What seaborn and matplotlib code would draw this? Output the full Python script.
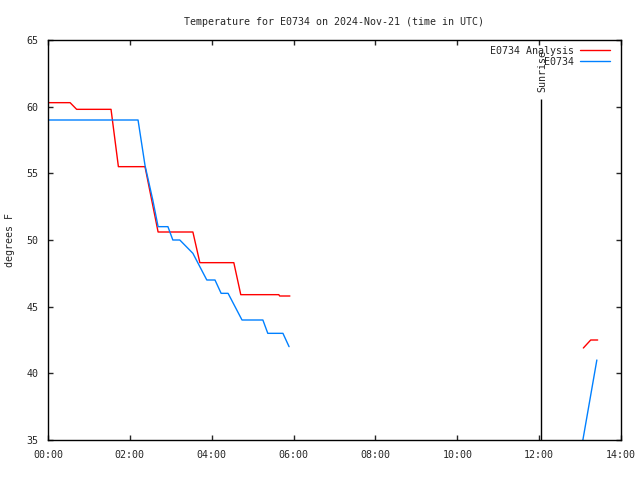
import numpy as np
import pandas as pd
import matplotlib
matplotlib.use("Agg")
import matplotlib.pyplot as plt
import seaborn as sns
from matplotlib.ticker import FuncFormatter, MultipleLocator

# Data (hours since 00:00 UTC, degrees F)
analysis_hours_1 = [0.0, 0.54, 0.70, 1.54, 1.72, 2.37, 2.69, 3.54, 3.71, 4.54, 4.71, 5.64, 5.66, 5.91]
analysis_temps_1 = [60.3, 60.3, 59.8, 59.8, 55.5, 55.5, 50.6, 50.6, 48.3, 48.3, 45.9, 45.9, 45.8, 45.8]
analysis_hours_2 = [13.08, 13.26, 13.43]
analysis_temps_2 = [41.9, 42.5, 42.5]

obs_hours_1 = [0.0, 2.20, 2.37, 2.56, 2.69, 2.93, 3.05, 3.22, 3.54, 3.88, 4.08, 4.23, 4.40, 4.74, 5.25, 5.37, 5.74, 5.89]
obs_temps_1 = [59.0, 59.0, 55.6, 53.0, 51.0, 51.0, 50.0, 50.0, 49.0, 47.0, 47.0, 46.0, 46.0, 44.0, 44.0, 43.0, 43.0, 42.0]
obs_hours_2 = [13.0, 13.41]
obs_temps_2 = [33.8, 41.0]

sunrise_hour = 12.05
sunrise_top = 60.6

series_names = ["E0734 Analysis", "E0734"]
series_colors = ["#ff0000", "#0080ff"]

frames = []
for name, seg, h, t in [
    (series_names[0], 0, analysis_hours_1, analysis_temps_1),
    (series_names[0], 1, analysis_hours_2, analysis_temps_2),
    (series_names[1], 2, obs_hours_1, obs_temps_1),
    (series_names[1], 3, obs_hours_2, obs_temps_2),
]:
    frames.append(pd.DataFrame({"hour": h, "temp": t, "series": name, "seg": seg}))
df = pd.concat(frames, ignore_index=True)

sns.set_style("ticks")
plt.rcParams["font.family"] = ["DejaVu Sans Mono"]
plt.rcParams["font.size"] = 7.2

fig = plt.figure(figsize=(6.4, 4.8), dpi=100)
ax = fig.add_axes([48 / 640, 40 / 480, 573 / 640, 400 / 480])

sns.lineplot(data=df, x="hour", y="temp", hue="series", units="seg", estimator=None,
             sort=False, palette=dict(zip(series_names, series_colors)),
             hue_order=series_names, linewidth=1, ax=ax)

ax.vlines(sunrise_hour, 35, sunrise_top, color="black", linewidth=1)
ax.text(sunrise_hour + 0.03, sunrise_top + 0.5, "Sunrise", rotation=90, ha="center", va="bottom", fontsize=7.2)

ax.set_xlim(0, 14)
ax.set_ylim(35, 65)
ax.xaxis.set_major_locator(MultipleLocator(2))
ax.yaxis.set_major_locator(MultipleLocator(5))
ax.xaxis.set_major_formatter(FuncFormatter(lambda v, p: "%02d:00" % int(round(v))))
ax.tick_params(direction="in", length=3.5, width=1, top=True, right=True, labelsize=7.2, pad=7)
for s in ax.spines.values():
    s.set_linewidth(1)
    s.set_color("black")

ax.set_xlabel("")
ax.set_ylabel("degrees F", fontsize=7.2, labelpad=8)
ax.set_title("Temperature for E0734 on 2024-Nov-21 (time in UTC)", fontsize=7.2, pad=11)

ax.legend(loc="upper right", bbox_to_anchor=(0.992, 1.0), frameon=False, markerfirst=False,
          handlelength=3.0, fontsize=7.2, borderaxespad=0.2, labelspacing=0.1, handletextpad=0.6)

fig.savefig("out.png", dpi=100)
